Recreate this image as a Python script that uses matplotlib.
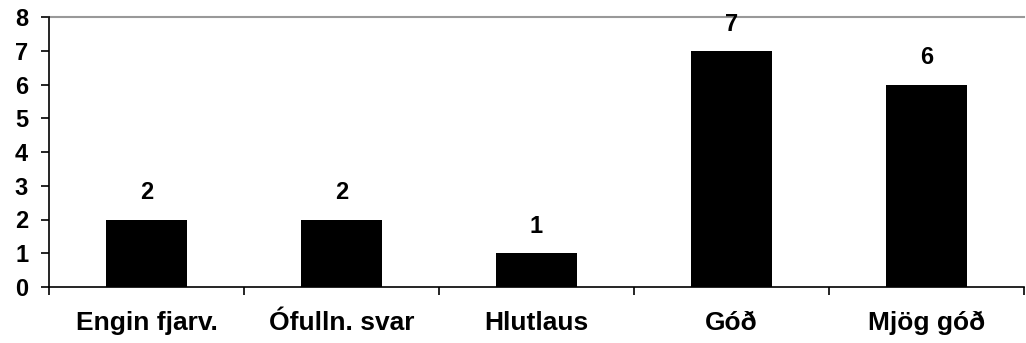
import matplotlib.pyplot as plt
import numpy as np

categories = ["Engin fjarv.", "Ófulln. svar", "Hlutlaus", "Góð", "Mjög góð"]
counts = [2, 2, 1, 7, 6]

plt.rcParams['font.family'] = ['Liberation Sans', 'DejaVu Sans']
plt.rcParams['font.weight'] = 'bold'

fig = plt.figure(figsize=(10.26, 3.43), dpi=100)
ax = fig.add_axes([49 / 1026, 1 - 287 / 343, 975 / 1026, 270 / 343])

x = np.arange(len(categories))
ax.bar(x, counts, width=0.42, color='black')
for xi, v in zip(x, counts):
    ax.text(xi, v + 0.45, str(v), ha='center', va='bottom', fontsize=17, fontweight='bold')

ax.set_xlim(-0.5, len(categories) - 0.5)
ax.set_ylim(0, 8)
ax.set_yticks(range(0, 9))
ax.tick_params(axis='y', labelsize=17, length=6, width=1.2, direction='out', pad=9)

# categories as minor labels, ticks on boundaries
ax.set_xticks(np.arange(-0.5, len(categories), 1.0))
ax.set_xticklabels([])
ax.set_xticks(x, minor=True)
ax.set_xticklabels(categories, minor=True, fontsize=19, fontweight='bold')
ax.tick_params(axis='x', which='major', length=6, width=1.2, direction='out')
ax.tick_params(axis='x', which='minor', length=0, pad=17)

ax.axhline(8, color='#999999', lw=1.5, clip_on=False)
ax.spines['top'].set_visible(False)
ax.spines['right'].set_visible(False)
ax.spines['left'].set_linewidth(1.2)
ax.spines['bottom'].set_linewidth(1.2)

fig.savefig('out.png', dpi=100)
